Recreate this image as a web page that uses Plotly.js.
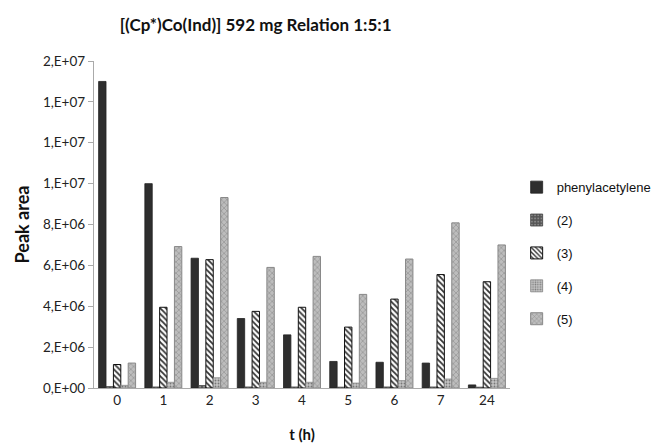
<!DOCTYPE html>
<html>
<head>
<meta charset="utf-8">
<script src="https://cdn.plot.ly/plotly-3.0.1.min.js"></script>
<style>html,body{margin:0;padding:0;background:#fff;}#chart{width:664px;height:447px;}</style>
</head>
<body>
<div id="chart"></div>
<script>
const categories = ["0", "1", "2", "3", "4", "5", "6", "7", "24"];
const phenylacetylene = [15.0e6, 10.0e6, 6.35e6, 3.4e6, 2.6e6, 1.3e6, 1.26e6, 1.22e6, 0.15e6];
const s2 = [0.07e6, 0.05e6, 0.12e6, 0.05e6, 0.05e6, 0.04e6, 0.05e6, 0.05e6, 0.04e6];
const s3 = [1.15e6, 3.95e6, 6.28e6, 3.75e6, 3.95e6, 2.98e6, 4.35e6, 5.55e6, 5.2e6];
const s4 = [0.13e6, 0.28e6, 0.5e6, 0.28e6, 0.28e6, 0.24e6, 0.36e6, 0.44e6, 0.47e6];
const s5 = [1.22e6, 6.92e6, 9.32e6, 5.9e6, 6.44e6, 4.58e6, 6.31e6, 8.08e6, 7.0e6];
const yTickVals = [0, 2e6, 4e6, 6e6, 8e6, 10e6, 12e6, 14e6, 16e6];
const yTickText = ["0,E+00", "2,E+06", "4,E+06", "6,E+06", "8,E+06", "1,E+07", "1,E+07", "1,E+07", "2,E+07"];

const traces = [
  {name: "phenylacetylene", y: phenylacetylene, marker: {color: "#2e2e2e", line: {color: "#222", width: 0.8}}},
  {name: "(2)", y: s2, marker: {color: "#555", pattern: {shape: ".", fgcolor: "#888", bgcolor: "#555", size: 4, solidity: 0.3}, line: {color: "#444", width: 0.8}}},
  {name: "(3)", y: s3, marker: {color: "#fff", pattern: {shape: "\\", fgcolor: "#333", bgcolor: "#fff", size: 4, solidity: 0.45}, line: {color: "#111", width: 1}}},
  {name: "(4)", y: s4, marker: {color: "#aaa", pattern: {shape: ".", fgcolor: "#777", bgcolor: "#c4c4c4", size: 3, solidity: 0.3}, line: {color: "#888", width: 0.8}}},
  {name: "(5)", y: s5, marker: {color: "#aaa", pattern: {shape: "x", fgcolor: "#888", bgcolor: "#bdbdbd", size: 4, solidity: 0.25}, line: {color: "#888", width: 1}}}
].map((t, i) => Object.assign({type: "bar", x: categories, legendgroup: "g" + i, hoverinfo: "skip"}, t));

const layout = {
  width: 664, height: 447,
  margin: {l: 94, r: 154, t: 61, b: 59, pad: 0, autoexpand: false},
  paper_bgcolor: "#fff", plot_bgcolor: "#fff",
  barmode: "group", bargap: 0.2, bargroupgap: 0,
  title: {text: "[(Cp*)Co(Ind)] 592 mg Relation 1:5:1", x: 0.385, xanchor: "center", y: 0.945, yanchor: "middle",
          font: {family: "Lato, 'Open Sans', sans-serif", size: 17, color: "#111", weight: "bold"}},
  xaxis: {type: "category", showline: true, linecolor: "#aaa", linewidth: 1.2, ticks: "", showgrid: false, zeroline: false,
          tickfont: {family: "Lato, sans-serif", size: 13.5, color: "#222"},
          title: {text: "<b>t (h)</b>", font: {family: "Lato, sans-serif", size: 15, color: "#111"}, standoff: 22}},
  yaxis: {range: [0, 16e6], tickvals: yTickVals, ticktext: yTickText, showline: true, linecolor: "#aaa", linewidth: 1.2,
          ticks: "outside", ticklen: 5, tickcolor: "#aaa", showgrid: false, zeroline: false,
          tickfont: {family: "Lato, sans-serif", size: 13.5, color: "#222"},
          title: {text: "<b>Peak area</b>", font: {family: "Lato, sans-serif", size: 18, color: "#111"}, standoff: 8}},
  legend: {x: 1.016, xanchor: "left", y: 0.66, yanchor: "top", tracegroupgap: 13,
           font: {family: "'Liberation Sans', Arial, sans-serif", size: 13, color: "#111"}, itemwidth: 30},
  showlegend: true
};

Plotly.newPlot("chart", traces, layout, {displayModeBar: false, staticPlot: true});
</script>
</body>
</html>
